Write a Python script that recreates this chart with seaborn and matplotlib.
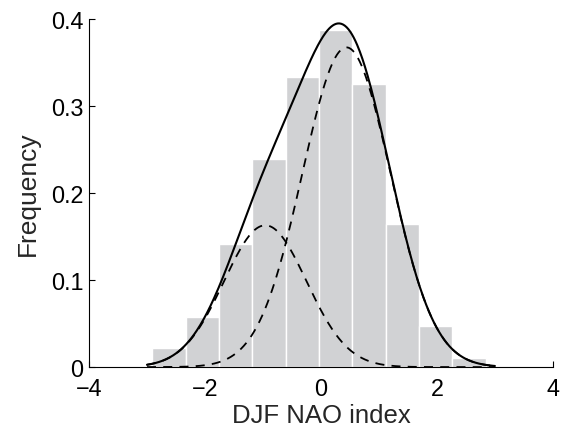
import numpy as np
import pandas as pd
import matplotlib
matplotlib.use("Agg")
import matplotlib.pyplot as plt
import seaborn as sns

# Histogram (bin edges and relative frequencies)
bin_edges = [-2.908, -2.333, -1.758, -1.183, -0.608, -0.033, 0.542, 1.117, 1.692, 2.267, 2.842]
frequency = [0.022, 0.058, 0.141, 0.239, 0.333, 0.388, 0.325, 0.164, 0.047, 0.011]

# Two-component Gaussian mixture fit (parameters)
comp_weight = [0.29, 0.70]
comp_mean = [-0.96, 0.44]
comp_sd = [0.71, 0.76]
curve_range = [-3.0, 3.0]

sns.set_theme(style="ticks")
plt.rcParams["font.family"] = ["Liberation Sans", "DejaVu Sans"]

fig = plt.figure(figsize=(5.61, 4.27), dpi=100)
ax = fig.add_axes([0.1586, 0.138, 0.827, 0.815])

centers = [(a + b) / 2 for a, b in zip(bin_edges[:-1], bin_edges[1:])]
hist_df = pd.DataFrame({"NAO": centers, "freq": frequency})
sns.histplot(data=hist_df, x="NAO", weights="freq", bins=bin_edges, stat="count",
             color="#d1d2d4", alpha=1.0, edgecolor="white", linewidth=1.0, ax=ax)

xs = np.linspace(curve_range[0], curve_range[1], 400)
def gauss(x, w, m, s):
    return w * np.exp(-0.5 * ((x - m) / s) ** 2) / (s * np.sqrt(2 * np.pi))

c1 = gauss(xs, comp_weight[0], comp_mean[0], comp_sd[0])
c2 = gauss(xs, comp_weight[1], comp_mean[1], comp_sd[1])
curves = pd.DataFrame({"x": xs, "mix": c1 + c2, "c1": c1, "c2": c2})
sns.lineplot(data=curves, x="x", y="mix", color="black", linewidth=1.5, ax=ax)
sns.lineplot(data=curves, x="x", y="c1", color="black", linewidth=1.3, ax=ax,
             dashes=False).lines[-1].set_dashes([5, 4])
sns.lineplot(data=curves, x="x", y="c2", color="black", linewidth=1.3, ax=ax,
             dashes=False).lines[-1].set_dashes([5, 4])

ax.set_xlim(-4, 4)
ax.set_ylim(0, 0.4)
ax.set_xticks([-4, -2, 0, 2, 4])
ax.set_xticklabels(["\u22124", "\u22122", "0", "2", "4"])
ax.set_yticks([0, 0.1, 0.2, 0.3, 0.4])
ax.set_yticklabels(["0", "0.1", "0.2", "0.3", "0.4"])
ax.tick_params(direction="in", length=4, width=0.8, labelsize=16.8, colors="black")
ax.tick_params(axis="x", pad=7.5)
ax.tick_params(axis="y", pad=4)
ax.set_xlabel("DJF NAO index", fontsize=18.5, labelpad=2)
ax.set_ylabel("Frequency", fontsize=19, labelpad=8)
for side in ["top", "right"]:
    ax.spines[side].set_visible(False)
for side in ["left", "bottom"]:
    ax.spines[side].set_linewidth(0.8)
    ax.spines[side].set_color("black")

fig.savefig("out.png", dpi=100)
